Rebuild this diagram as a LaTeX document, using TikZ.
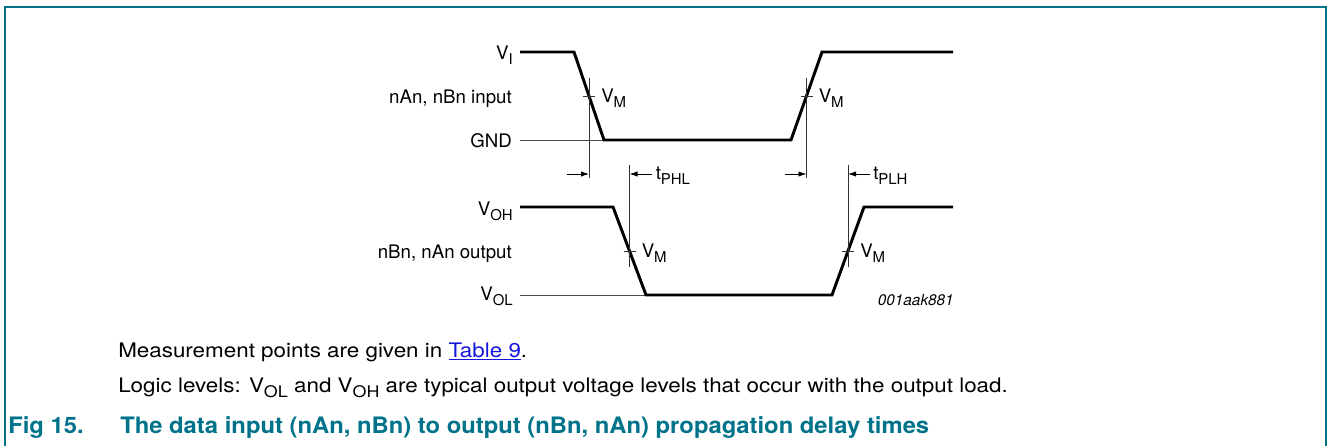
\documentclass[tikz,border=0pt]{standalone}
\usepackage{fontspec}
\setmainfont{TeX Gyre Heros}
\usepackage{graphicx}
\usepackage{tikz}
\usetikzlibrary{arrows.meta,calc}
\definecolor{nxpteal}{RGB}{0,114,138}
\definecolor{linkblue}{RGB}{20,20,225}
\tikzset{
	frame/.style={draw=nxpteal, line width=1.5pt},
	wave/.style={line width=2.2pt, line join=miter},
	level/.style={draw=black!70, line width=0.6pt},
	marker/.style={draw=black!80, line width=0.6pt},
	tim/.style={draw=black, line width=0.6pt, -{Latex[length=6pt,width=4pt]}},
	lbl/.style={anchor=base east, inner sep=0pt, font=\fontsize{14}{16}\selectfont},
	vm/.style={anchor=base west, inner sep=0pt, font=\fontsize{14}{16}\selectfont},
	body/.style={anchor=base west, inner sep=0pt, font=\fontsize{15}{17}\selectfont\addfontfeature{FakeStretch=1.12}},
	capt/.style={anchor=base west, inner sep=0pt, text=nxpteal, font=\fontsize{17}{19}\selectfont\bfseries\addfontfeature{FakeStretch=1.05}}
}
\newcommand{\sbs}[1]{\raisebox{-0.27em}{\scalebox{0.8}{#1}}}

\begin{document}
\begin{tikzpicture}[x=0.75pt,y=-0.75pt]
	\useasboundingbox (0,0) rectangle (1328,446);
	\draw [frame]	(5,446) -- (5,7) -- (1326,7) -- (1326,446);

	% input waveform
	\coordinate (i0) at (520,52);
	\coordinate (i1) at (574,52);
	\coordinate (i2) at (604,140);
	\coordinate (i3) at (791,140);
	\coordinate (i4) at (822,52);
	\coordinate (i5) at (953,52);
	\coordinate (gnd) at (520,140);
	\draw [level]	(gnd) -- (i2);
	\draw [wave]	(i0) -- (i1) -- (i2) -- (i3) -- (i4) -- (i5);

	% output waveform
	\coordinate (o0) at (520,207);
	\coordinate (o1) at (613,207);
	\coordinate (o2) at (646,295);
	\coordinate (o3) at (832,295);
	\coordinate (o4) at (864,207);
	\coordinate (o5) at (953,207);
	\coordinate (vol) at (520,295);
	\draw [level]	(vol) -- (o2);
	\draw [wave]	(o0) -- (o1) -- (o2) -- (o3) -- (o4) -- (o5);

	% measurement points
	\coordinate (mi1) at ($(i1)!0.5!(i2)$);
	\coordinate (mi2) at ($(i3)!0.5!(i4)$);
	\coordinate (mo1) at ($(o1)!0.5!(o2)$);
	\coordinate (mo2) at ($(o3)!0.5!(o4)$);
	\foreach \m in {mi1,mi2} {
		\draw [marker]	($(\m)+(0,-18)$) -- ($(\m)+(0,82)$);
		\draw [marker]	($(\m)+(-6,0)$) -- ($(\m)+(6,0)$);
		\draw [tim]	($(\m)+(-22,78)$) -- ($(\m)+(0,78)$);
		\node [vm] at ($(\m)+(12,6)$) {V\sbs{M}};
	}
	\foreach \m in {mo1,mo2} {
		\draw [marker]	($(\m)+(0,-86)$) -- ($(\m)+(0,16)$);
		\draw [marker]	($(\m)+(-6,0)$) -- ($(\m)+(6,0)$);
		\draw [tim]	($(\m)+(22,-77)$) -- ($(\m)+(0,-77)$);
		\node [vm] at ($(\m)+(12,6)$) {V\sbs{M}};
	}
	\node [vm] (tphl) at ($(mo1)+(26,-72)$) {t\sbs{PHL}};
	\node [vm] (tplh) at ($(mo2)+(25,-72)$) {t\sbs{PLH}};

	% levels
	\node [lbl] (vi)  at (513,59)  {V\sbs{I}};
	\node [lbl] (in)  at (512,103) {nAn, nBn input};
	\node [lbl] (gl)  at (512,147) {GND};
	\node [lbl] (voh) at (513,215) {V\sbs{OH}};
	\node [lbl] (out) at (512,258) {nBn, nAn output};
	\node [lbl] (vl)  at (513,300) {V\sbs{OL}};
	\node [anchor=base east, inner sep=0pt, font=\fontsize{11.5}{13}\selectfont\itshape] (id) at (954,305) {001aak881};

	% notes and caption
	\node [body] (n1) at (118,357) {Measurement points are given in \textcolor{linkblue}{\underline{Table 9}}.};
	\node [body] (n2) at (118,392) {Logic levels: V\sbs{OL} and V\sbs{OH} are typical output voltage levels that occur with the output load.};
	\node [capt] (fig) at (8,433) {Fig 15.};
	\node [capt] (title) at (120,433) {The data input (nAn, nBn) to output (nBn, nAn) propagation delay times};
\end{tikzpicture}
\end{document}
